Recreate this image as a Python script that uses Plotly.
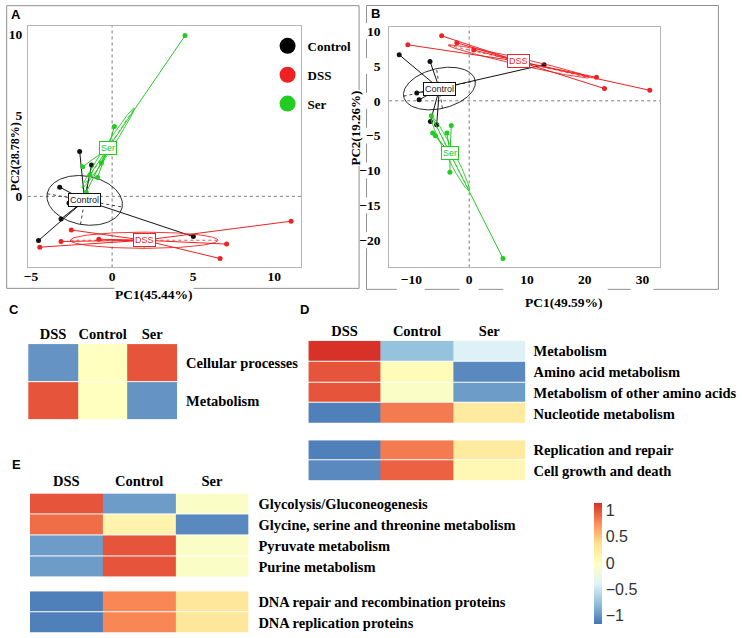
import numpy as np
import plotly.graph_objects as go

W, H = 742, 638
def PX(x): return x / W
def PY(y): return 1 - y / H

# ---------------- data ----------------
group_names = ["Control", "DSS", "Ser"]
group_colors = ["#111111", "#ee2222", "#22cc22"]

# Panel A : PCA (PC1 45.44 %, PC2 28.78 %)
A_control_x = [-2.00, -1.27, -3.23, -2.66, -3.15, -4.54, 5.01]
A_control_y = [2.76, 1.94, 0.57, -0.41, -1.39, -2.72, -2.48]
A_dss_x = [-2.52, -0.82, -3.15, -4.46, 11.04, 7.06, 6.66]
A_dss_y = [-2.07, -2.64, -2.78, -3.13, -1.53, -2.94, -3.83]
A_ser_x = [4.50, 0.14, -1.82, -0.66, -1.37, -0.90, -1.60]
A_ser_y = [9.91, 4.31, 1.82, 2.06, 1.33, 1.17, 0.25]
A_ell_a = [2.35, 4.55, 2.95]
A_ell_b = [1.50, 0.50, 0.20]
A_ell_ang = [-10.0, 0.0, 56.9]

# Panel B : PCA (PC1 49.59 %, PC2 19.26 %)
B_control_x = [-12.11, -6.78, -9.07, -8.67, -6.71, -5.63, 12.96]
B_control_y = [6.61, 5.66, 1.14, 0.14, -2.96, -3.43, 5.19]
B_dss_x = [-4.77, -10.62, -2.13, 0.79, 22.03, 23.41, 31.26]
B_dss_y = [9.33, 8.04, 8.33, 7.29, 3.37, 1.76, 1.51]
B_ser_x = [-6.54, -3.10, -3.85, -6.32, -5.85, -3.34, 5.85]
B_ser_y = [-2.14, -3.53, -4.63, -4.63, -5.00, -10.24, -22.63]
B_ell_a = [6.30, 12.42, 6.29]
B_ell_b = [2.90, 0.50, 0.70]
B_ell_ang = [10.0, -10.8, -58.4]

A_ticks_x = [-5, 0, 5, 10]
A_ticks_y = [0, 5, 10]
B_ticks_x = [-10, 0, 10, 20, 30]
B_ticks_y = [-20, -15, -10, -5, 0, 5, 10]

# Heatmaps (row-scaled values)
hm_groups = ["DSS", "Control", "Ser"]
C_rows = ["Cellular processes", "Metabolism"]
C_z = [[-1.00, 0.00, 1.00],
       [1.00, 0.00, -1.00]]
D_rows1 = ["Metabolism", "Amino acid metabolism",
           "Metabolism of other amino acids", "Nucleotide metabolism"]
D_z1 = [[1.15, -0.75, -0.40],
        [1.00, 0.05, -1.05],
        [1.00, -0.05, -0.95],
        [-1.10, 0.85, 0.25]]
D_rows2 = ["Replication and repair", "Cell growth and death"]
D_z2 = [[-1.10, 0.85, 0.25],
        [-1.05, 0.95, 0.10]]
E_rows1 = ["Glycolysis/Gluconeogenesis",
           "Glycine, serine and threonine metabolism",
           "Pyruvate metabolism", "Purine metabolism"]
E_z1 = [[1.00, -0.95, -0.05],
        [0.90, 0.15, -1.05],
        [-0.95, 1.00, -0.05],
        [-0.95, 1.00, -0.05]]
E_rows2 = ["DNA repair and recombination proteins", "DNA replication proteins"]
E_z2 = [[-1.10, 0.80, 0.30],
        [-1.10, 0.80, 0.30]]
cbar_ticks = [-1, -0.5, 0, 0.5, 1]

# ---------------- styles ----------------
SERIF = "Liberation Serif"
SANS = "Liberation Sans"
HM_SCALE = [[0 / 6, "#4575B4"], [1 / 6, "#91BFDB"], [2 / 6, "#E0F3F8"],
            [3 / 6, "#FFFFBF"], [4 / 6, "#FEE090"], [5 / 6, "#FC8D59"],
            [6 / 6, "#D73027"]]
ZLIM = 1.1547

fig = go.Figure()
annotations = []
shapes = []


def pca_panel(xs_list, ys_list, ell_a, ell_b, ell_ang, xa, ya):
    t = np.linspace(0, 2 * np.pi, 181)
    for gi, (gx, gy) in enumerate(zip(xs_list, ys_list)):
        col = group_colors[gi]
        gx = np.asarray(gx, float)
        gy = np.asarray(gy, float)
        cx, cy = gx.mean(), gy.mean()
        th = np.deg2rad(ell_ang[gi])
        a, b = ell_a[gi], ell_b[gi]
        ex = cx + a * np.cos(t) * np.cos(th) - b * np.sin(t) * np.sin(th)
        ey = cy + a * np.cos(t) * np.sin(th) + b * np.sin(t) * np.cos(th)
        fig.add_trace(go.Scatter(x=ex, y=ey, mode="lines", xaxis=xa, yaxis=ya,
                                 line=dict(color=col, width=0.9),
                                 showlegend=False, hoverinfo="skip"))
        axx = [cx - a * np.cos(th), cx + a * np.cos(th), None,
               cx + b * np.sin(th), cx - b * np.sin(th)]
        axy = [cy - a * np.sin(th), cy + a * np.sin(th), None,
               cy - b * np.cos(th), cy + b * np.cos(th)]
        fig.add_trace(go.Scatter(x=axx, y=axy, mode="lines", xaxis=xa, yaxis=ya,
                                 line=dict(color=col, width=0.8, dash="dot"),
                                 showlegend=False, hoverinfo="skip"))
        sx, sy = [], []
        for px_, py_ in zip(gx, gy):
            sx += [cx, px_, None]
            sy += [cy, py_, None]
        fig.add_trace(go.Scatter(x=sx, y=sy, mode="lines", xaxis=xa, yaxis=ya,
                                 line=dict(color=col, width=1),
                                 showlegend=False, hoverinfo="skip"))
        fig.add_trace(go.Scatter(x=gx, y=gy, mode="markers", xaxis=xa, yaxis=ya,
                                 marker=dict(color=col, size=5),
                                 showlegend=False, name=group_names[gi]))
        annotations.append(dict(x=cx, y=cy, xref=xa, yref=ya, text=group_names[gi],
                                showarrow=False, bgcolor="white", bordercolor=col,
                                borderwidth=1, borderpad=1,
                                font=dict(family=SANS, size=9,
                                          color="#222222" if gi == 0 else col)))
    # dotted zero lines
    shapes.append(dict(type="line", layer="below", xref=xa, yref=ya + " domain",
                       x0=0, x1=0, y0=0, y1=1,
                       line=dict(color="#7a7a7a", width=1, dash="dot")))
    shapes.append(dict(type="line", layer="below", xref=xa + " domain", yref=ya,
                       x0=0, x1=1, y0=0, y1=0,
                       line=dict(color="#7a7a7a", width=1, dash="dot")))


pca_panel([A_control_x, A_dss_x, A_ser_x], [A_control_y, A_dss_y, A_ser_y],
          A_ell_a, A_ell_b, A_ell_ang, "x", "y")
pca_panel([B_control_x, B_dss_x, B_ser_x], [B_control_y, B_dss_y, B_ser_y],
          B_ell_a, B_ell_b, B_ell_ang, "x2", "y2")

# legend entries (panel A)
for gi, g in enumerate(group_names):
    fig.add_trace(go.Scatter(x=[None], y=[None], mode="markers", xaxis="x", yaxis="y",
                             marker=dict(color=group_colors[gi] if gi else "#000000",
                                         size=16),
                             name=g, legendgroup=g, showlegend=True))


def heat(z, rows, xa, ya, showscale=False):
    tr = go.Heatmap(z=z, x=hm_groups, y=rows, xaxis=xa, yaxis=ya,
                    colorscale=HM_SCALE, zmin=-ZLIM, zmax=ZLIM, ygap=1,
                    showscale=showscale, hoverinfo="z")
    if showscale:
        tr.colorbar = dict(thickness=8, lenmode="pixels", len=121.3,
                           x=PX(593.3), xanchor="left", xpad=0,
                           y=PY(562.7), yanchor="middle", ypad=0,
                           outlinewidth=0, ticks="", tickvals=cbar_ticks,
                           tickfont=dict(family=SANS, size=16, color="#333333"))
    fig.add_trace(tr)


heat(C_z, C_rows, "x3", "y3")
heat(D_z1, D_rows1, "x4", "y4")
heat(D_z2, D_rows2, "x5", "y5")
heat(E_z1, E_rows1, "x6", "y6", showscale=True)
heat(E_z2, E_rows2, "x7", "y7")

# ---------------- axes ----------------
TICKF = dict(family=SERIF, size=13.5, color="black", weight="bold")
LABF = dict(family=SERIF, size=14.5, color="black", weight="bold")
frame = dict(showgrid=False, zeroline=False, showline=True, mirror=True,
             linecolor="#b5b5b5", linewidth=1, ticks="", tickfont=TICKF)

layout_axes = dict(
    xaxis=dict(frame, domain=[PX(24), PX(299)], range=[-5.196, 11.675],
               tickvals=A_ticks_x, anchor="y", ticklabelstandoff=-4),
    yaxis=dict(frame, domain=[PY(265.7), PY(23.3)], range=[-4.38, 10.49],
               tickvals=A_ticks_y, anchor="x", ticklabelstandoff=2),
    xaxis2=dict(frame, domain=[PX(387.3), PX(660)], range=[-13.84, 33.1],
                tickvals=B_ticks_x, anchor="y2", ticklabelstandoff=-1),
    yaxis2=dict(frame, domain=[PY(265.7), PY(24)], range=[-23.91, 10.61],
                tickvals=B_ticks_y, anchor="x2", ticklabelstandoff=5),
)

hm_x = dict(showgrid=False, zeroline=False, showline=False, ticks="", side="top",
            tickfont=LABF, ticklabelstandoff=1)
hm_y = dict(showgrid=False, zeroline=False, showline=False, ticks="", side="right",
            autorange="reversed", tickfont=LABF)
layout_axes.update(
    xaxis3=dict(hm_x, domain=[PX(24.3), PX(174)], anchor="y3"),
    yaxis3=dict(hm_y, domain=[PY(419.3), PY(342.7)], anchor="x3", ticklabelstandoff=8),
    xaxis4=dict(hm_x, domain=[PX(306), PX(524.3)], anchor="y4"),
    yaxis4=dict(hm_y, domain=[PY(423), PY(339.3)], anchor="x4", ticklabelstandoff=7),
    xaxis5=dict(hm_x, domain=[PX(306), PX(524.3)], anchor="y5", showticklabels=False),
    yaxis5=dict(hm_y, domain=[PY(480), PY(439.3)], anchor="x5", ticklabelstandoff=7),
    xaxis6=dict(hm_x, domain=[PX(26), PX(245.7)], anchor="y6", ticklabelstandoff=3),
    yaxis6=dict(hm_y, domain=[PY(577.3), PY(492.7)], anchor="x6", ticklabelstandoff=9),
    xaxis7=dict(hm_x, domain=[PX(26), PX(245.7)], anchor="y7", showticklabels=False),
    yaxis7=dict(hm_y, domain=[PY(633.3), PY(591)], anchor="x7", ticklabelstandoff=9),
)

# ---------------- frames ----------------
FRAME_COL = "#8f8f8f"
def pline(x0, y0, x1, y1):
    shapes.append(dict(type="line", xref="paper", yref="paper",
                       x0=PX(x0), y0=PY(y0), x1=PX(x1), y1=PY(y1),
                       line=dict(color=FRAME_COL, width=1)))

# panel A frame
pline(2.7, 2.7, 357, 2.7)
pline(2.7, 286.7, 357, 286.7)
pline(2.7, 2.7, 2.7, 286.7)
pline(357, 2.7, 357, 286.7)
# panel B frame (broken by tick labels)
pline(364.5, 2.5, 718.3, 2.5)
pline(718.3, 2.5, 718.3, 287.7)
for s0, s1 in [(364.5, 395), (423, 458), (477, 502), (607, 630), (653, 718.3)]:
    pline(s0, 287.7, s1, 287.7)
y_top, y_bot, v_top, v_bot = 24.0, 265.7, 10.61, -23.91
tick_px = sorted(y_top + (v_top - v) * (y_bot - y_top) / (v_top - v_bot) for v in B_ticks_y)
edges = [2.5]
for p in tick_px:
    edges += [p - 8, p + 8]
edges.append(287.7)
for i in range(0, len(edges), 2):
    pline(364.5, edges[i], 364.5, edges[i + 1])

# ---------------- text ----------------
def txt(x, y, s, size=14, family=SERIF, bold=True, angle=0, bg=None, color="black"):
    d = dict(x=PX(x), y=PY(y), xref="paper", yref="paper", text=s, showarrow=False,
             xanchor="center", yanchor="middle", textangle=angle,
             font=dict(family=family, size=size, color=color,
                       weight="bold" if bold else "normal"))
    if bg:
        d.update(bgcolor=bg, borderpad=0)
    annotations.append(d)

txt(151, 292.7, "PC1(45.44%)", size=13.5, bg="white")
txt(11, 154, "PC2(28.78%)", size=12)
txt(563, 300.7, "PC1(49.59%)", size=13.5, bg="white")
txt(353.3, 125.7, "PC2(19.26%)", size=13, angle=-90, bg="white")
annotations[-3]["textangle"] = -90
for letter, lx, ly in [("A", 12, 12), ("B", 374, 11), ("C", 10, 308),
                       ("D", 302, 308), ("E", 13, 464)]:
    txt(lx, ly, letter, size=13, family=SANS)

fig.update_layout(
    width=W, height=H, margin=dict(l=0, r=0, t=0, b=0),
    paper_bgcolor="white", plot_bgcolor="white",
    shapes=shapes, annotations=annotations,
    legend=dict(x=PX(265), y=PY(28), xanchor="left", yanchor="top",
                bgcolor="rgba(0,0,0,0)", itemsizing="trace", tracegroupgap=9,
                font=dict(family=SERIF, size=13, color="black", weight="bold")),
    **layout_axes,
)

fig.write_html("out.html", config={"displayModeBar": False},
               post_script="document.body.style.margin='0px';"
                           "document.body.style.padding='0px';")
